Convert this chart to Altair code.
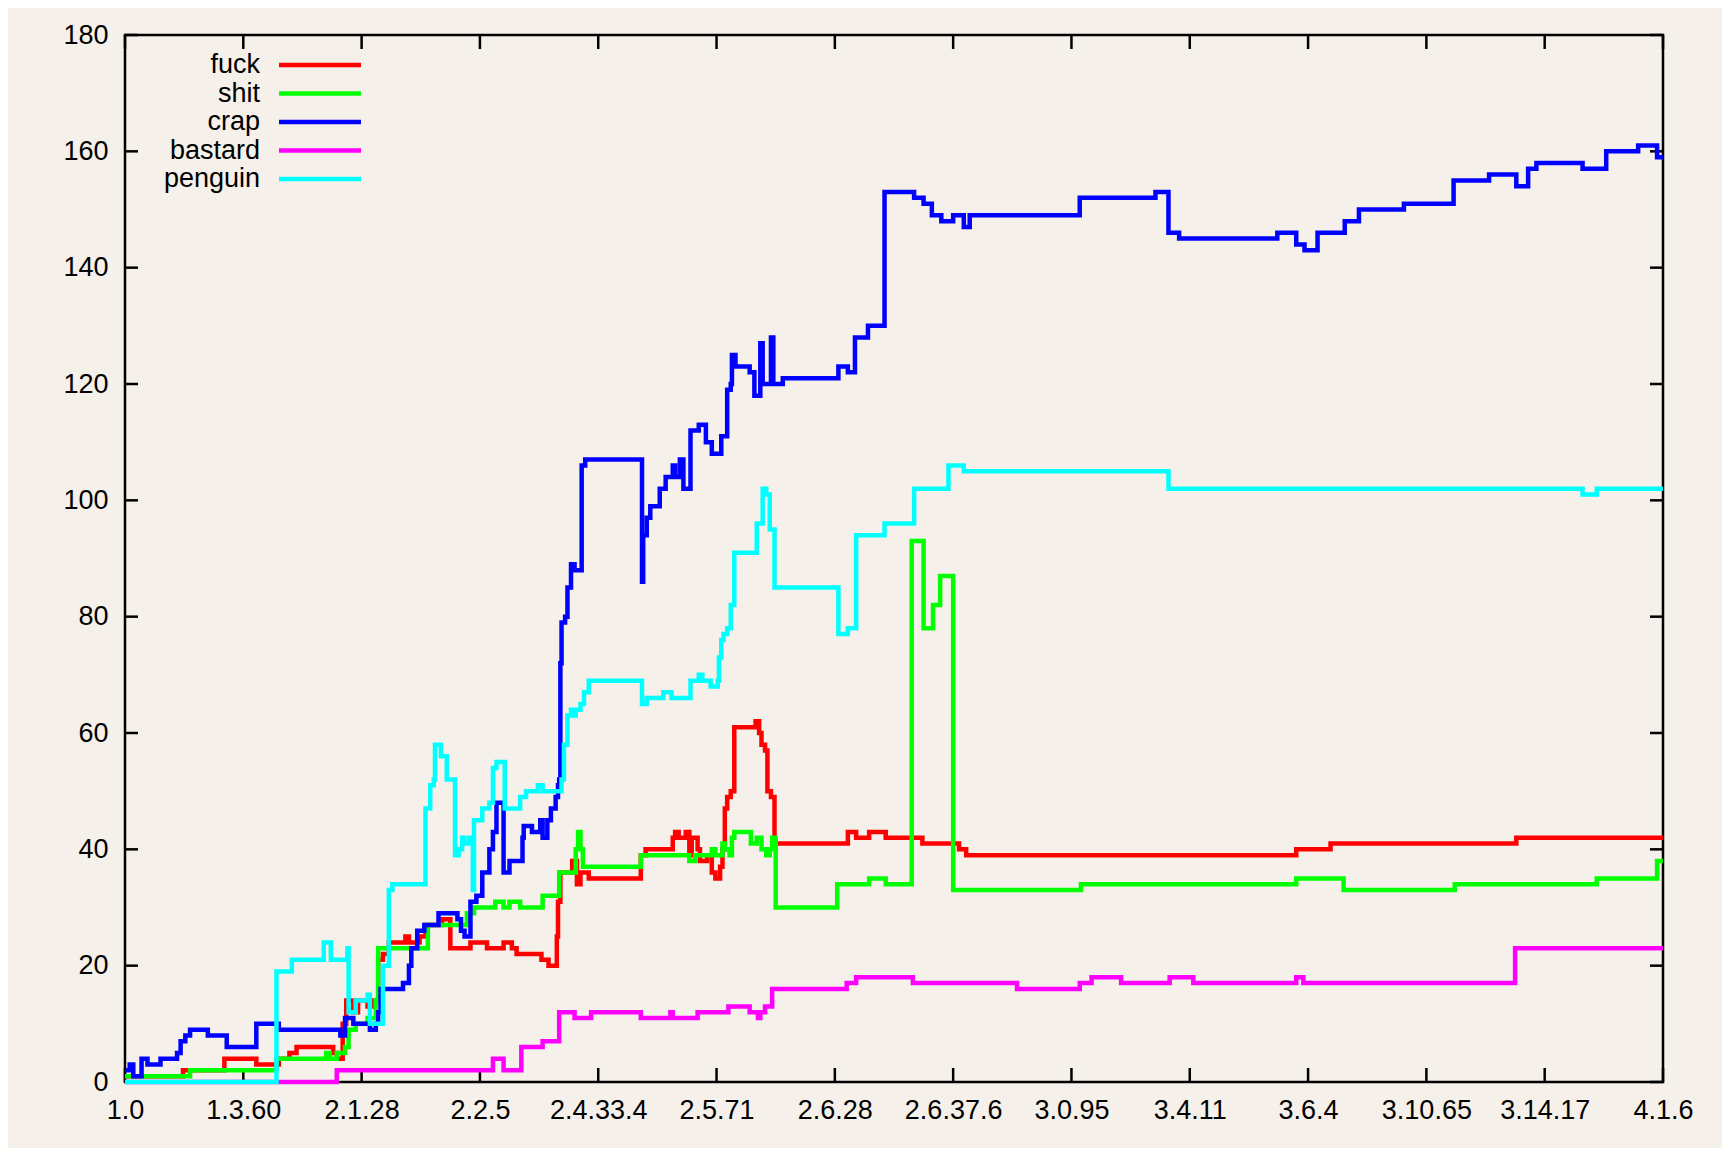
import json
import altair as alt
import pandas as pd

# ---------------- data (x = release index, 100 releases per labelled tick) ----------------
tick_labels = ["1.0", "1.3.60", "2.1.28", "2.2.5", "2.4.33.4", "2.5.71", "2.6.28",
               "2.6.37.6", "3.0.95", "3.4.11", "3.6.4", "3.10.65", "3.14.17", "4.1.6"]
x_ticks = [i * 100 for i in range(len(tick_labels))]
y_ticks = [0, 20, 40, 60, 80, 100, 120, 140, 160, 180]

series_names = ["fuck", "shit", "crap", "bastard", "penguin"]
series_colors = ["#ff0000", "#00ff00", "#0000ff", "#ff00ff", "#00ffff"]

fuck = [(0, 1), (49, 2), (84, 4), (111, 3), (130, 4), (139, 5), (145, 6), (176, 5), (179, 4),
        (184, 10), (187, 14), (193, 12), (197, 14), (205, 13), (210, 14), (214, 21), (218, 22),
        (223, 24), (237, 25), (240, 24), (249, 25), (254, 27), (268, 28), (275, 23), (292, 24),
        (306, 23), (320, 24), (327, 23), (331, 22), (352, 21), (358, 20), (365, 25), (366, 31),
        (368, 36), (378, 38), (382, 34), (385, 36), (392, 35), (436, 39), (440, 40), (463, 42),
        (465, 43), (468, 42), (474, 43), (477, 39), (479, 42), (484, 40), (486, 38), (492, 39),
        (496, 36), (499, 35), (503, 37), (505, 40), (507, 47), (509, 49), (512, 50), (515, 61),
        (533, 62), (536, 60), (538, 58), (541, 57), (543, 50), (546, 49), (549, 41), (611, 43),
        (618, 42), (629, 43), (643, 42), (674, 41), (705, 40), (711, 39), (990, 40), (1019, 41),
        (1176, 42), (1300, 42)]

shit = [(0, 1), (55, 2), (128, 4), (170, 5), (173, 4), (179, 5), (186, 6), (189, 9), (195, 10),
        (205, 11), (212, 14), (214, 23), (256, 27), (289, 29), (295, 30), (313, 31), (320, 30),
        (325, 31), (334, 30), (353, 32), (367, 36), (381, 40), (383, 43), (385, 40), (387, 37),
        (436, 39), (477, 38), (482, 39), (496, 40), (499, 39), (505, 41), (507, 40), (511, 39),
        (513, 42), (515, 43), (529, 41), (534, 42), (538, 40), (542, 39), (545, 40), (547, 42),
        (550, 30), (602, 34), (629, 35), (643, 34), (665, 93), (675, 78), (683, 82), (689, 87),
        (700, 33), (808, 34), (990, 35), (1030, 33), (1124, 34), (1244, 35), (1295, 38), (1300, 38)]

crap = [(0, 2), (4, 3), (7, 1), (14, 4), (19, 3), (30, 4), (44, 5), (47, 7), (51, 8), (55, 9),
        (70, 8), (86, 6), (111, 10), (130, 9), (182, 8), (186, 11), (193, 10), (207, 9), (212, 10),
        (214, 12), (216, 16), (235, 17), (240, 20), (242, 23), (247, 26), (253, 27), (265, 29),
        (281, 28), (284, 26), (287, 25), (292, 31), (297, 32), (302, 36), (308, 40), (311, 43),
        (314, 48), (320, 36), (325, 38), (336, 42), (337, 44), (344, 43), (351, 45), (353, 42),
        (357, 45), (360, 47), (364, 49), (366, 51), (367, 52), (368, 72), (369, 79), (372, 80),
        (374, 85), (377, 89), (380, 88), (386, 106), (389, 107), (437, 86), (438, 94), (441, 97),
        (444, 99), (452, 102), (457, 104), (463, 106), (465, 104), (469, 107), (472, 102),
        (478, 112), (485, 113), (491, 110), (496, 108), (504, 111), (509, 119), (512, 120),
        (513, 125), (516, 123), (528, 122), (532, 118), (537, 127), (539, 120), (546, 128),
        (548, 120), (556, 121), (603, 123), (611, 122), (617, 128), (628, 130), (642, 153),
        (667, 152), (675, 151), (682, 149), (690, 148), (700, 149), (709, 147), (714, 149),
        (807, 152), (871, 153), (882, 146), (891, 145), (974, 146), (990, 144), (997, 143),
        (1008, 146), (1031, 148), (1043, 150), (1081, 151), (1123, 155), (1153, 156), (1176, 154),
        (1186, 157), (1193, 158), (1232, 157), (1252, 160), (1279, 161), (1295, 159), (1300, 159)]

bastard = [(0, 0), (179, 2), (311, 4), (320, 2), (335, 6), (353, 7), (367, 12), (380, 11),
           (394, 12), (436, 11), (461, 12), (463, 11), (484, 12), (510, 13), (528, 12), (535, 11),
           (537, 12), (541, 13), (547, 16), (610, 17), (618, 18), (666, 17), (754, 16), (807, 17),
           (817, 18), (842, 17), (883, 18), (903, 17), (990, 18), (996, 17), (1175, 23), (1300, 23)]

penguin = [(0, 0), (128, 19), (141, 21), (168, 24), (174, 21), (188, 23), (189, 12), (195, 14),
           (205, 15), (207, 10), (218, 20), (223, 33), (226, 34), (254, 47), (258, 51), (261, 52),
           (262, 58), (267, 56), (272, 52), (279, 39), (282, 40), (285, 42), (287, 41), (291, 42),
           (294, 33), (295, 45), (302, 47), (308, 48), (311, 54), (314, 55), (321, 47), (334, 49),
           (339, 50), (349, 51), (353, 50), (369, 52), (371, 58), (374, 63), (377, 64), (380, 63),
           (381, 64), (385, 65), (388, 67), (392, 69), (437, 65), (441, 66), (455, 67), (462, 66),
           (478, 69), (485, 70), (488, 69), (495, 68), (501, 69), (502, 73), (504, 76), (506, 77),
           (509, 78), (512, 82), (515, 91), (534, 96), (539, 102), (542, 101), (545, 95), (549, 85),
           (603, 77), (611, 78), (618, 94), (642, 96), (667, 102), (696, 106), (709, 105),
           (882, 102), (1232, 101), (1244, 102), (1300, 102)]

series_data = [fuck, shit, crap, bastard, penguin]

# ---------------- layout ----------------
W, H = 1538, 1047
FONT = "Liberation Sans"
FS = 27
BG = "#f5f0e9"

x_scale = alt.Scale(domain=[0, 1300], nice=False, zero=False)
y_scale = alt.Scale(domain=[0, 180], nice=False, zero=False)

label_expr = json.dumps(tick_labels) + "[round(datum.value / 100)]"
ax_x = alt.Axis(values=x_ticks, labelExpr=label_expr, ticks=False, domain=False, grid=False,
                title=None, labelPadding=15, labelOverlap=False, labelBound=False, labelFlush=False,
                labelFont=FONT, labelFontSize=FS, labelColor="black")
ax_y = alt.Axis(values=y_ticks, ticks=False, domain=False, grid=False, title=None,
                labelPadding=17, labelFont=FONT, labelFontSize=FS, labelColor="black")

layers = []

# inward tick marks on all four sides (gnuplot style)
xt = pd.DataFrame({"v": x_ticks})
yt = pd.DataFrame({"v": y_ticks})
for y0, y1 in [(0, 14), (H - 14, H)]:
    layers.append(alt.Chart(xt).mark_rule(color="black", strokeWidth=2.5).encode(
        x=alt.X("v:Q", scale=x_scale, axis=ax_x), y=alt.value(y0), y2=alt.value(y1)))
for x0, x1 in [(0, 13), (W - 13, W)]:
    layers.append(alt.Chart(yt).mark_rule(color="black", strokeWidth=2.5).encode(
        y=alt.Y("v:Q", scale=y_scale, axis=ax_y), x=alt.value(x0), x2=alt.value(x1)))

# data lines, drawn in gnuplot order
for name, col, pts in zip(series_names, series_colors, series_data):
    df = pd.DataFrame(pts, columns=["x", "y"])
    layers.append(alt.Chart(df).mark_line(color=col, strokeWidth=4.5, interpolate="step-after",
                                          strokeJoin="miter", strokeCap="butt").encode(
        x=alt.X("x:Q", scale=x_scale, axis=ax_x),
        y=alt.Y("y:Q", scale=y_scale, axis=ax_y)))

# key (top-left, labels to the left of the samples)
for i, (name, col) in enumerate(zip(series_names, series_colors)):
    yy = 30 + 28.5 * i
    ldf = pd.DataFrame({"t": [name]})
    layers.append(alt.Chart(ldf).mark_text(align="right", baseline="middle", font=FONT,
                                           fontSize=FS, color="black").encode(
        text="t:N", x=alt.value(135), y=alt.value(yy)))
    layers.append(alt.Chart(ldf).mark_rule(color=col, strokeWidth=4.5).encode(
        x=alt.value(154), x2=alt.value(236), y=alt.value(yy)))

chart = alt.layer(*layers).properties(
    width=W, height=H,
    autosize=alt.AutoSizeParams(type="none"),
    padding={"left": 117, "top": 27, "right": 59, "bottom": 66},
    background=BG,
).configure_view(stroke="black", strokeWidth=2.5, fill=None)

chart.save("out.html", embed_options={"renderer": "svg", "actions": False})
